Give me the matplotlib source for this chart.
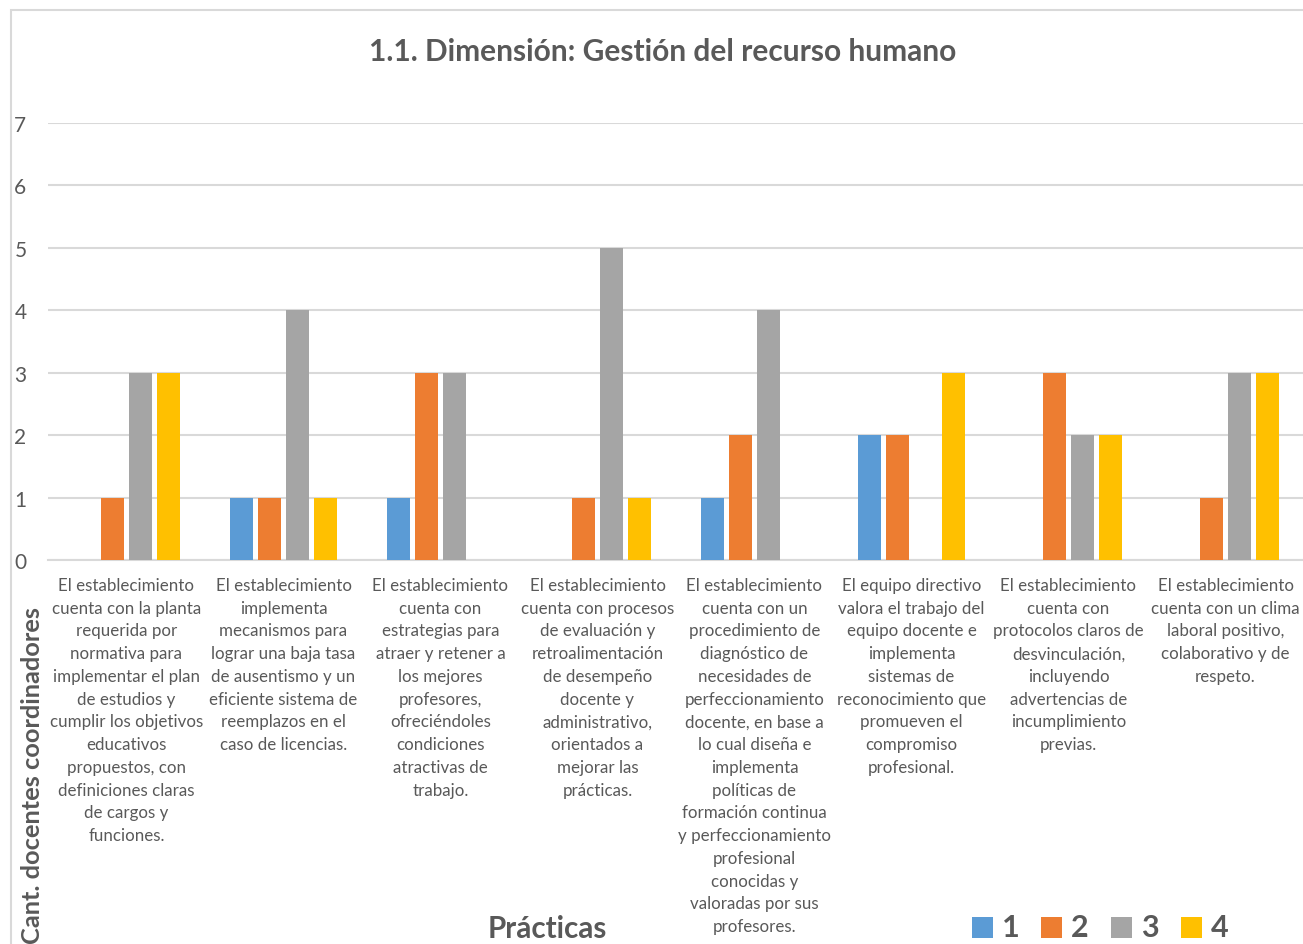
import matplotlib
matplotlib.use("Agg")
import matplotlib.pyplot as plt
import matplotlib.patches as mpatches
import numpy as np

plt.rcParams['font.family'] = ['Lato', 'DejaVu Sans']

categories = [
    "El establecimiento\ncuenta con la planta\nrequerida por\nnormativa para\nimplementar el plan\nde estudios y\ncumplir los objetivos\neducativos\npropuestos, con\ndefiniciones claras\nde cargos y\nfunciones.",
    "El establecimiento\nimplementa\nmecanismos para\nlograr una baja tasa\nde ausentismo y un\neficiente sistema de\nreemplazos en el\ncaso de licencias.",
    "El establecimiento\ncuenta con\nestrategias para\natraer y retener a\nlos mejores\nprofesores,\nofreciéndoles\ncondiciones\natractivas de\ntrabajo.",
    "El establecimiento\ncuenta con procesos\nde evaluación y\nretroalimentación\nde desempeño\ndocente y\nadministrativo,\norientados a\nmejorar las\nprácticas.",
    "El establecimiento\ncuenta con un\nprocedimiento de\ndiagnóstico de\nnecesidades de\nperfeccionamiento\ndocente, en base a\nlo cual diseña e\nimplementa\npolíticas de\nformación continua\ny perfeccionamiento\nprofesional\nconocidas y\nvaloradas por sus\nprofesores.",
    "El equipo directivo\nvalora el trabajo del\nequipo docente e\nimplementa\nsistemas de\nreconocimiento que\npromueven el\ncompromiso\nprofesional.",
    "El establecimiento\ncuenta con\nprotocolos claros de\ndesvinculación,\nincluyendo\nadvertencias de\nincumplimiento\nprevias.",
    "El establecimiento\ncuenta con un clima\nlaboral positivo,\ncolaborativo y de\nrespeto.",
]

series_names = ["1", "2", "3", "4"]
serie_1 = [0, 1, 1, 0, 1, 2, 0, 0]
serie_2 = [1, 1, 3, 1, 2, 2, 3, 1]
serie_3 = [3, 4, 3, 5, 4, 0, 2, 3]
serie_4 = [3, 1, 0, 1, 0, 3, 2, 3]
colors = ["#5B9BD5", "#ED7D31", "#A5A5A5", "#FFC000"]

title = "1.1. Dimensión: Gestión del recurso humano"
y_title = "Cant. docentes coordinadores"
x_title = "Prácticas"

text_color = "#595959"
grid_color = "#D9D9D9"

W, H = 1303, 945
fig = plt.figure(figsize=(W / 100, H / 100), dpi=100)

# chart frame
fig.patches.append(mpatches.Rectangle((10.5 / W, -0.1), 1.2, (H - 10.5) / H + 0.1,
                                      transform=fig.transFigure, fill=False,
                                      edgecolor=grid_color, linewidth=1.5))

ax = fig.add_axes([48 / W, (H - 561) / H, (1304 - 48) / W, (561 - 124) / H])
ax.set_xlim(-0.5, len(categories) - 0.5)
ax.set_ylim(0, 7)

x = np.arange(len(categories))
step = 0.178
width = 0.142
for i, (vals, c) in enumerate(zip([serie_1, serie_2, serie_3, serie_4], colors)):
    ax.bar(x + (i - 1.5) * step, vals, width=width, color=c, zorder=3)

ax.set_yticks(range(0, 8))
ax.yaxis.grid(True, color=grid_color, linewidth=1.5, zorder=0)
for s in ["top", "right", "left"]:
    ax.spines[s].set_visible(False)
ax.spines["bottom"].set_color(grid_color)
ax.spines["bottom"].set_linewidth(1.5)
ax.spines["bottom"].set_zorder(1)
ax.tick_params(axis="y", length=0, pad=15.5, labelsize=15, labelcolor=text_color)
ax.set_xticks([])

for xi, lab in zip(x, categories):
    ax.text(xi, -0.27, lab, ha="center", va="top", fontsize=12.2,
            color=text_color, linespacing=1.52,
            transform=ax.transData, clip_on=False)

fig.text(663 / W, 1 - 52 / H, title, ha="center", va="center",
         fontsize=21.5, fontweight="bold", color=text_color)
fig.text(547 / W, 1 - 929 / H, x_title, ha="center", va="center",
         fontsize=21.3, fontweight="bold", color=text_color)
fig.text(33 / W, 1 - 944 / H, y_title, ha="center", va="bottom", rotation=90,
         fontsize=18.3, fontweight="bold", color=text_color)

# legend
leg_x = [972, 1041, 1111, 1181]
for name, c, lx in zip(series_names, colors, leg_x):
    fig.patches.append(mpatches.Rectangle((lx / W, 1 - 939 / H), 21 / W, 21 / H,
                                          transform=fig.transFigure,
                                          facecolor=c, edgecolor="none"))
    fig.text((lx + 30) / W, 1 - 928 / H, name, ha="left", va="center",
             fontsize=22, fontweight="bold", color=text_color)

fig.savefig("out.png", dpi=100)
